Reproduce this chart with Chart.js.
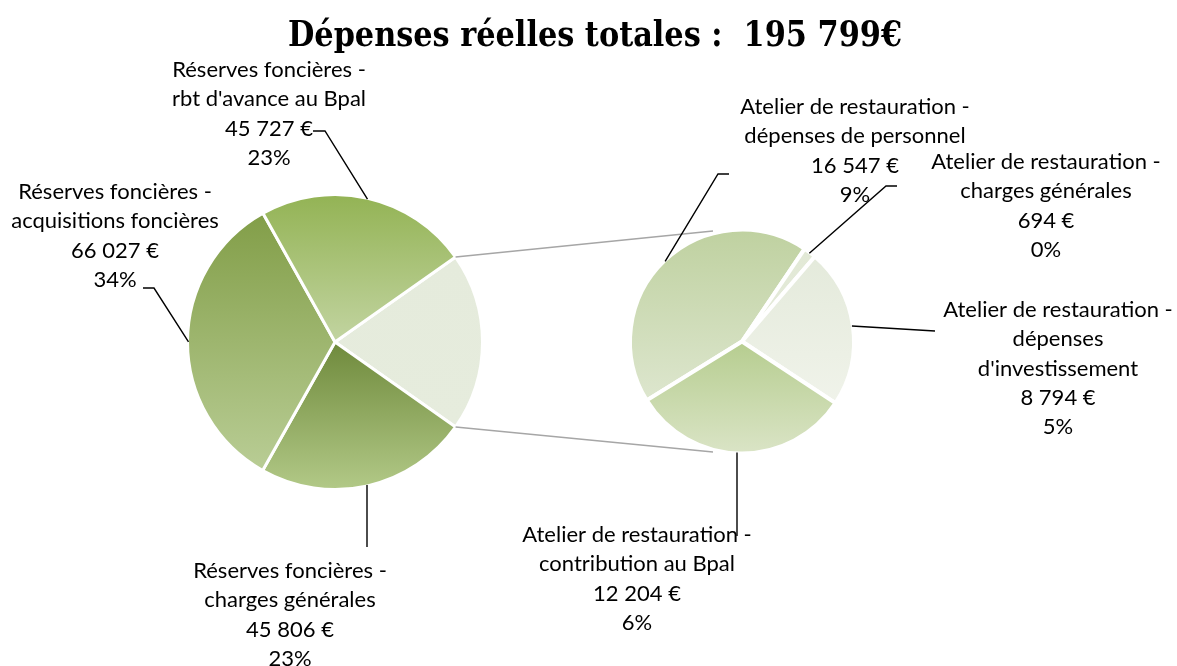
<!DOCTYPE html>
<html><head><meta charset="utf-8">
<script src="https://cdn.jsdelivr.net/npm/chart.js@4.4.1/dist/chart.umd.min.js"></script>
<style>
html,body{margin:0;padding:0;background:#fff;}
#wrap{position:relative;width:1177px;height:666px;overflow:hidden;background:#fff;}
#wrap canvas{position:absolute;left:0;top:0;}
</style></head><body>
<div id="wrap"><canvas id="main" width="1177" height="666"></canvas><canvas id="sec" width="1177" height="666"></canvas></div>
<script>
// ---------- DATA ----------
const titleText = 'Dépenses réelles totales :  195 799€';
const secCategories = [
  'Atelier de restauration -\ndépenses de personnel',
  'Atelier de restauration -\ncharges générales',
  'Atelier de restauration -\ndépenses\nd\'investissement',
  'Atelier de restauration -\ncontribution au Bpal'
];
const secValues = [16547, 694, 8794, 12204];
const secPercentLabels = ['9%', '0%', '5%', '6%'];

const mainCategories = [
  'Atelier de restauration',
  'Réserves foncières -\ncharges générales',
  'Réserves foncières -\nacquisitions foncières',
  'Réserves foncières -\nrbt d\'avance au Bpal'
];
const otherValue = secValues.reduce((a, b) => a + b, 0);
const mainValues = [otherValue, 45806, 66027, 45727];
const mainPercentLabels = ['', '23%', '34%', '23%'];

// ---------- STYLE / LAYOUT ----------
const mainStops = [
  ['#e5ebdc', '#e6ecdd'],
  ['#6f8a3c', '#b2c987'],
  ['#829e48', '#b9cd95'],
  ['#93b354', '#c2d4a1']
];
const secStops = [
  ['#bfd1a0', '#dde6ce'],
  ['#e2e9d6', '#e4ead9'],
  ['#e4eadb', '#f0f3ea'],
  ['#b6cd8f', '#dae4c6']
];
const FONT = 'Lato, "Open Sans", "Liberation Sans", sans-serif';
const LABEL_SIZE = 22;
const LINE_H = 29.3;
const mainLabelLayout = [
  null,
  {x: 290, y: 571, path: [[367, 547]], vertical: true},
  {x: 115, y: 192, path: [[143, 288], [154, 288]]},
  {x: 269, y: 70, path: [[313, 131], [325, 131]]}
];
const secLabelLayout = [
  {x: 855, y: 107, path: [[729, 174], [718, 174]]},
  {x: 1046, y: 162, path: [[897, 186], [886, 186]]},
  {x: 1058, y: 310, path: [[935, 331]]},
  {x: 637, y: 535, path: [[737, 536]], vertical: true}
];

function fmtEuro(n) {
  return String(n).replace(/\B(?=(\d{3})+(?!\d))/g, ' ') + ' €';
}

function sliceGradient(context, values, rotation, stops) {
  const chart = context.chart;
  const area = chart.chartArea;
  const st = stops[context.dataIndex];
  if (!area) return st[0];
  const cx = (area.left + area.right) / 2, cy = (area.top + area.bottom) / 2;
  const r = chart.options.radius;
  const total = values.reduce((a, b) => a + b, 0);
  let a0 = -Math.PI / 2 + rotation * Math.PI / 180;
  for (let i = 0; i < context.dataIndex; i++) a0 += values[i] / total * 2 * Math.PI;
  const a1 = a0 + values[context.dataIndex] / total * 2 * Math.PI;
  let ymin = cy, ymax = cy;
  for (let k = 0; k <= 200; k++) {
    const a = a0 + (a1 - a0) * k / 200;
    const y = cy + r * Math.sin(a);
    ymin = Math.min(ymin, y); ymax = Math.max(ymax, y);
  }
  const g = chart.ctx.createLinearGradient(0, ymin, 0, ymax);
  g.addColorStop(0, st[0]);
  g.addColorStop(1, st[1]);
  return g;
}

const mainTotal = mainValues.reduce((a, b) => a + b, 0);
const mainRotation = 90 - (mainValues[0] / mainTotal * 360) / 2;
const secRotation = 238.3;

const mainChart = new Chart(document.getElementById('main'), {
  type: 'pie',
  data: {labels: mainCategories, datasets: [{
    data: mainValues,
    backgroundColor: ctx => sliceGradient(ctx, mainValues, mainRotation, mainStops),
    borderColor: '#ffffff', borderWidth: 3
  }]},
  options: {
    responsive: false, animation: false, events: [],
    rotation: mainRotation, radius: 147.5,
    layout: {padding: {left: 35, right: 542, top: 42, bottom: 24}},
    plugins: {legend: {display: false}, tooltip: {enabled: false}, title: {display: false}}
  }
});

function edgePoint(chart, i, extra, atX) {
  const arc = chart.getDatasetMeta(0).data[i];
  const p = arc.getProps(['x', 'y', 'startAngle', 'endAngle', 'outerRadius'], true);
  const R = p.outerRadius + (extra || 0);
  if (atX !== undefined) {
    const dx = atX - p.x;
    return [atX, p.y + Math.sqrt(Math.max(R * R - dx * dx, 0))];
  }
  const m = (p.startAngle + p.endAngle) / 2;
  return [p.x + Math.cos(m) * R, p.y + Math.sin(m) * R];
}

function drawLabel(ctx, lines, x, y) {
  ctx.fillStyle = '#000000';
  ctx.font = LABEL_SIZE + 'px ' + FONT;
  ctx.textAlign = 'center';
  ctx.textBaseline = 'middle';
  lines.forEach((t, k) => ctx.fillText(t, x, y + k * LINE_H));
}

const overlayPlugin = {
  id: 'overlay',
  afterDraw(chart) {
    const ctx = chart.ctx;
    ctx.save();
    const arc0 = mainChart.getDatasetMeta(0).data[0].getProps(['x', 'y', 'startAngle', 'endAngle', 'outerRadius'], true);
    const sc = chart.getDatasetMeta(0).data[0].getProps(['x', 'y', 'outerRadius'], true);
    const R0 = arc0.outerRadius;
    const Rs = sc.outerRadius;
    const attach = 104.7 * Math.PI / 180;
    ctx.strokeStyle = '#a6a6a6';
    ctx.lineWidth = 1.6;
    [[arc0.startAngle, -1], [arc0.endAngle, 1]].forEach(([a, s]) => {
      ctx.beginPath();
      ctx.moveTo(arc0.x + Math.cos(a) * R0, arc0.y + Math.sin(a) * R0);
      ctx.lineTo(sc.x + Math.cos(attach) * Rs * 1.02, sc.y + s * Math.sin(attach) * Rs * 1.02);
      ctx.stroke();
    });
    ctx.strokeStyle = '#000000';
    ctx.lineWidth = 1.4;
    const leaders = [];
    mainLabelLayout.forEach((L, i) => {
      if (L) leaders.push([L.path, edgePoint(mainChart, i, -1, L.vertical ? L.path[L.path.length - 1][0] : undefined)]);
    });
    secLabelLayout.forEach((L, i) => {
      leaders.push([L.path, edgePoint(chart, i, -1, L.vertical ? L.path[L.path.length - 1][0] : undefined)]);
    });
    leaders.forEach(([path, e]) => {
      ctx.beginPath();
      ctx.moveTo(path[0][0], path[0][1]);
      for (let k = 1; k < path.length; k++) ctx.lineTo(path[k][0], path[k][1]);
      ctx.lineTo(e[0], e[1]);
      ctx.stroke();
    });
    mainLabelLayout.forEach((L, i) => {
      if (!L) return;
      drawLabel(ctx, mainCategories[i].split('\n').concat([fmtEuro(mainValues[i]), mainPercentLabels[i]]), L.x, L.y);
    });
    secLabelLayout.forEach((L, i) => {
      drawLabel(ctx, secCategories[i].split('\n').concat([fmtEuro(secValues[i]), secPercentLabels[i]]), L.x, L.y);
    });
    ctx.font = 'bold 36px "DejaVu Serif Condensed", "DejaVu Serif", serif';
    ctx.textAlign = 'center';
    ctx.textBaseline = 'alphabetic';
    ctx.fillStyle = '#000000';
    ctx.fillText(titleText, 595, 46, 614);
    ctx.restore();
  }
};

const secChart = new Chart(document.getElementById('sec'), {
  type: 'pie',
  data: {labels: secCategories, datasets: [{
    data: secValues,
    backgroundColor: ctx => sliceGradient(ctx, secValues, secRotation, secStops),
    borderColor: '#ffffff', borderWidth: 4
  }]},
  options: {
    responsive: false, animation: false, events: [],
    rotation: secRotation, radius: 112,
    layout: {padding: {left: 542, right: 235, top: 141.5, bottom: 124.5}},
    plugins: {legend: {display: false}, tooltip: {enabled: false}, title: {display: false}}
  },
  plugins: [overlayPlugin]
});
</script>
</body></html>
